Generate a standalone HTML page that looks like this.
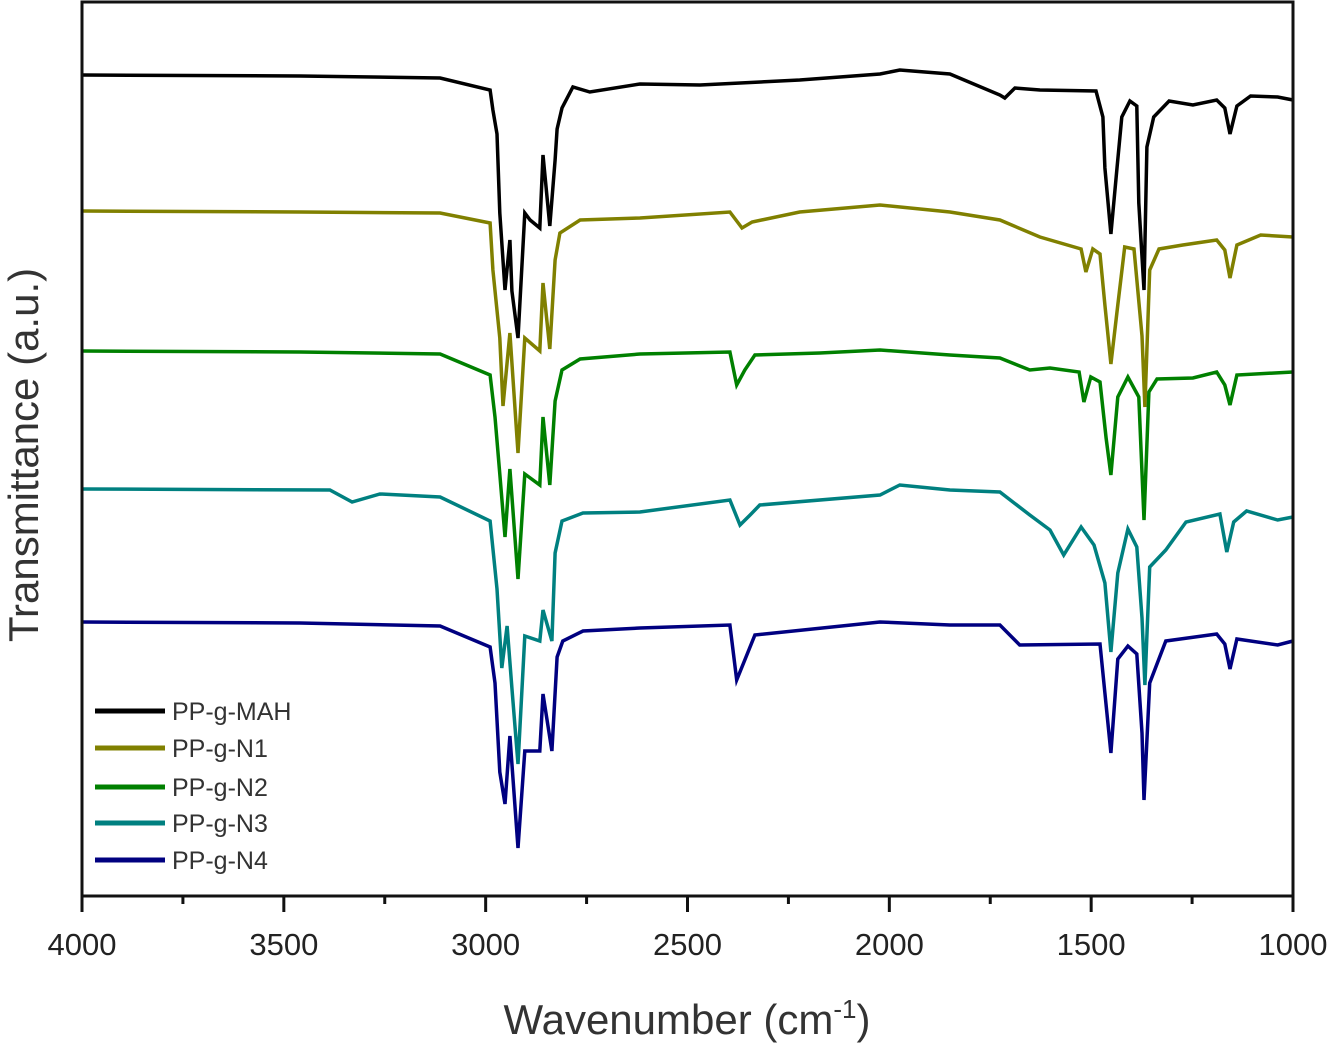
<!DOCTYPE html>
<html><head><meta charset="utf-8"><style>
html,body{margin:0;padding:0;background:#fff;}
svg{display:block;font-family:"Liberation Sans",Arial,sans-serif;}
</style></head><body>
<svg id="chart" width="1339" height="1045" viewBox="0 0 1339 1045" xmlns="http://www.w3.org/2000/svg">
<g id="series"></g>
<rect x="82" y="2" width="1211" height="894" fill="none" stroke="#111" stroke-width="3"/>
<g id="xticks"></g>
<g id="legend"></g>
<text x="687" y="1034" text-anchor="middle" font-size="42" fill="#333">Wavenumber (cm<tspan dy="-16" font-size="26">-1</tspan><tspan dy="16">)</tspan></text>
<text transform="translate(38,455) rotate(-90)" text-anchor="middle" font-size="42" fill="#333">Transmittance (a.u.)</text>
</svg>
<script>
const xTicks = [4000, 3500, 3000, 2500, 2000, 1500, 1000];
const xMinorTicks = [3750, 3250, 2750, 2250, 1750, 1250];
const seriesNames = ["PP-g-MAH", "PP-g-N1", "PP-g-N2", "PP-g-N3", "PP-g-N4"];
const seriesColors = ["#000000", "#808000", "#008000", "#008080", "#000080"];
const mahData = [[4000,821],[3460,820],[3113,818],[2989,806],[2982,786],[2972,762],[2965,683],[2952,606],[2940,656],[2935,605],[2920,558],[2903,683],[2890,676],[2866,668],[2858,741],[2841,670],[2828,736],[2823,767],[2811,788],[2784,809],[2742,804],[2618,812],[2469,811],[2222,816],[2023,822],[1974,826],[1850,822],[1726,801],[1714,798],[1689,808],[1627,806],[1488,805],[1471,779],[1466,728],[1451,662],[1436,728],[1424,779],[1404,795],[1387,790],[1382,693],[1369,606],[1362,749],[1345,779],[1307,795],[1248,791],[1189,796],[1169,788],[1156,762],[1139,790],[1105,800],[1038,799],[1000,796]];
const n1Data = [[4000,685],[3460,684],[3113,683],[2989,673],[2982,626],[2965,558],[2957,490],[2940,563],[2920,443],[2903,558],[2866,545],[2858,613],[2841,547],[2828,636],[2816,663],[2766,676],[2618,678],[2395,684],[2365,668],[2340,674],[2222,684],[2023,691],[1850,684],[1726,676],[1627,659],[1525,647],[1513,624],[1496,647],[1478,642],[1466,591],[1451,532],[1434,591],[1417,649],[1394,647],[1374,560],[1367,489],[1355,626],[1332,647],[1273,651],[1189,656],[1169,646],[1156,618],[1139,651],[1080,661],[1000,659]];
const n2Data = [[4000,545],[3460,544],[3113,542],[2989,521],[2977,479],[2965,422],[2952,359],[2940,427],[2920,317],[2903,422],[2866,411],[2858,479],[2841,411],[2828,495],[2811,526],[2766,537],[2618,542],[2395,544],[2378,511],[2358,526],[2333,541],[2172,543],[2023,546],[1850,541],[1726,538],[1652,526],[1602,528],[1530,524],[1518,494],[1501,519],[1478,514],[1463,458],[1451,421],[1434,499],[1409,519],[1382,499],[1369,376],[1357,504],[1337,517],[1248,518],[1189,524],[1169,511],[1156,491],[1139,521],[1000,524]];
const n3Data = [[4000,407],[3386,406],[3331,394],[3262,402],[3113,399],[2989,375],[2972,307],[2960,228],[2947,270],[2935,208],[2920,132],[2903,260],[2866,255],[2858,286],[2836,255],[2828,343],[2811,375],[2759,383],[2618,384],[2395,396],[2370,371],[2345,381],[2321,391],[2023,401],[1974,411],[1850,406],[1726,404],[1652,381],[1602,366],[1568,341],[1525,369],[1493,351],[1466,313],[1451,244],[1434,323],[1409,367],[1387,349],[1374,278],[1367,211],[1355,329],[1315,346],[1265,374],[1181,382],[1164,344],[1147,374],[1115,385],[1038,376],[1000,379]];
const n4Data = [[4000,274],[3460,273],[3113,270],[2989,249],[2977,213],[2965,124],[2952,92],[2940,160],[2920,48],[2903,145],[2866,145],[2858,202],[2836,145],[2823,239],[2809,255],[2759,265],[2618,268],[2395,271],[2378,216],[2358,236],[2333,261],[2023,274],[1850,271],[1726,271],[1677,251],[1478,252],[1466,203],[1451,143],[1434,237],[1409,250],[1387,242],[1374,163],[1369,96],[1355,213],[1315,255],[1189,262],[1169,252],[1156,227],[1139,257],[1038,251],[1000,255]];
const allSeries = [mahData, n1Data, n2Data, n3Data, n4Data];

const NS = "http://www.w3.org/2000/svg";
const L = 82, R = 1293, T = 2, B = 896;
function xs(w) { return L + (4000 - w) / 3000 * (R - L); }
function ys(v) { return B - v / 894 * (B - T); }

const gS = document.getElementById('series');
allSeries.forEach((data, i) => {
  const p = document.createElementNS(NS, 'path');
  
  
  p.setAttribute('d', data.map((d, j) => (j ? 'L' : 'M') + xs(d[0]).toFixed(1) + ',' + ys(d[1]).toFixed(1)).join(''));
  p.setAttribute('fill', 'none');
  p.setAttribute('stroke', seriesColors[i]);
  p.setAttribute('stroke-width', '3.5');
  p.setAttribute('stroke-linejoin', 'miter');
  gS.appendChild(p);
});

const gX = document.getElementById('xticks');
xTicks.forEach(t => {
  const ln = document.createElementNS(NS, 'line');
  
  
  ln.setAttribute('x1', xs(t)); ln.setAttribute('x2', xs(t));
  ln.setAttribute('y1', B); ln.setAttribute('y2', B + 16);
  ln.setAttribute('stroke', '#111'); ln.setAttribute('stroke-width', '3');
  gX.appendChild(ln);
  const tx = document.createElementNS(NS, 'text');
  
  
  tx.setAttribute('x', xs(t)); tx.setAttribute('y', 955);
  tx.setAttribute('text-anchor', 'middle');
  tx.setAttribute('font-size', '31');
  tx.setAttribute('fill', '#222');
  tx.textContent = t;
  gX.appendChild(tx);
});
xMinorTicks.forEach(t => {
  const ln = document.createElementNS(NS, 'line');
  
  
  ln.setAttribute('x1', xs(t)); ln.setAttribute('x2', xs(t));
  ln.setAttribute('y1', B); ln.setAttribute('y2', B + 8);
  ln.setAttribute('stroke', '#111'); ln.setAttribute('stroke-width', '3');
  gX.appendChild(ln);
});

const gL = document.getElementById('legend');
const legY = [711, 748, 787, 823, 860];
seriesNames.forEach((n, i) => {
  const ln = document.createElementNS(NS, 'line');
  
  
  ln.setAttribute('x1', 95); ln.setAttribute('x2', 165);
  ln.setAttribute('y1', legY[i]); ln.setAttribute('y2', legY[i]);
  ln.setAttribute('stroke', seriesColors[i]); ln.setAttribute('stroke-width', '5');
  gL.appendChild(ln);
  const tx = document.createElementNS(NS, 'text');
  
  
  tx.setAttribute('x', 172); tx.setAttribute('y', legY[i] + 9);
  tx.setAttribute('font-size', '25');
  tx.setAttribute('fill', '#333');
  tx.textContent = n;
  gL.appendChild(tx);
});
</script>
</body></html>
